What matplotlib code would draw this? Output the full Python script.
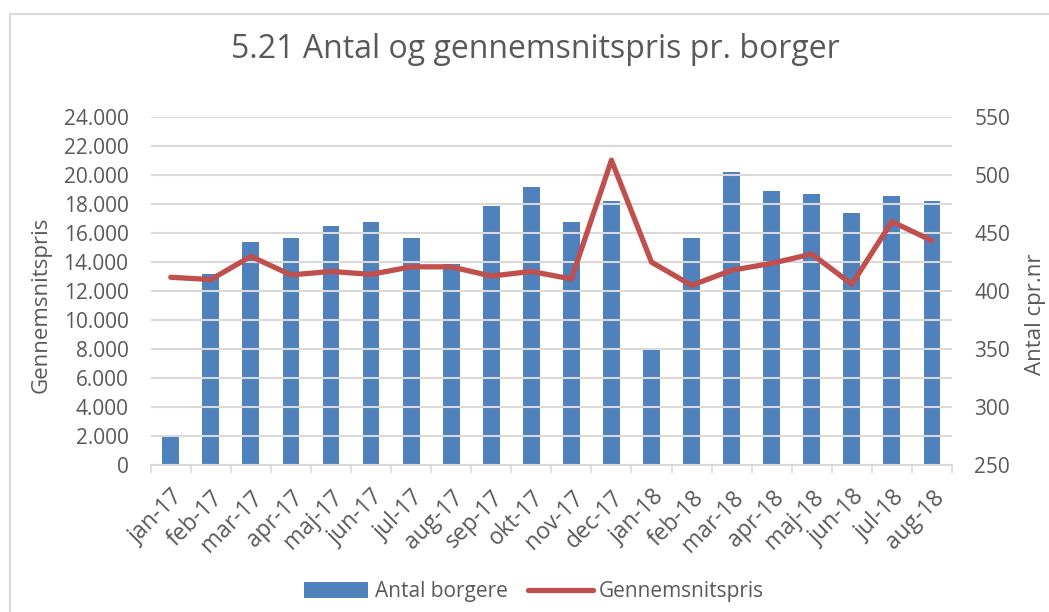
import matplotlib.pyplot as plt
from matplotlib.patches import Rectangle
import numpy as np

plt.rcParams['font.family'] = ['Open Sans', 'DejaVu Sans']

# Data
months = ['jan-17', 'feb-17', 'mar-17', 'apr-17', 'maj-17', 'jun-17', 'jul-17',
          'aug-17', 'sep-17', 'okt-17', 'nov-17', 'dec-17', 'jan-18', 'feb-18',
          'mar-18', 'apr-18', 'maj-18', 'jun-18', 'jul-18', 'aug-18']
antal_borgere = [1900, 13200, 15400, 15700, 16500, 16800, 15700, 13900, 17900, 19200,
                 16800, 18200, 8100, 15700, 20200, 18900, 18700, 17400, 18600, 18200]
gennemsnitspris = [412, 410, 430, 414, 417, 414.5, 421, 421, 413, 417,
                   410.5, 513, 425, 405, 418, 424, 432, 406, 460, 443.5]

bar_color = '#4F81BD'
line_color = '#C0504D'
text_color = '#595959'
grid_color = '#D9D9D9'

fig = plt.figure(figsize=(10.49, 6.12), dpi=100)
fig.patches.append(Rectangle((10 / 1049, -0.1), 1.2, 1 - 14 / 612 + 0.1,
                             transform=fig.transFigure, fill=False,
                             edgecolor=grid_color, linewidth=1.5))

ax = fig.add_axes([150.7 / 1049, 147 / 612, (952 - 150.7) / 1049, (465 - 117.3) / 612])
x = np.arange(len(months))
ax.bar(x, antal_borgere, width=0.42, color=bar_color, label='Antal borgere', zorder=1)

ax.set_xlim(-0.5, len(months) - 0.5)
ax.set_ylim(0, 24000)
ax.set_yticks(range(0, 24001, 2000))
ax.set_yticklabels([f'{v:,}'.replace(',', '.') for v in range(0, 24001, 2000)])
ax.set_axisbelow(False)
ax.yaxis.grid(True, color=grid_color, linewidth=1.5, zorder=2)
ax.set_xticks(x)
ax.set_xticklabels(months, rotation=45, ha='right', rotation_mode='anchor')
ax.set_xticks(np.arange(-0.5, len(months)), minor=True)
ax.tick_params(axis='x', which='major', length=0, pad=15, labelsize=16.5, labelcolor=text_color)
ax.tick_params(axis='x', which='minor', length=6, width=1.2, color=grid_color)
ax.tick_params(axis='y', length=0, pad=16, labelsize=15, labelcolor=text_color)
for s in ['top', 'left', 'right']:
    ax.spines[s].set_visible(False)
ax.spines['bottom'].set_color(grid_color)
ax.spines['bottom'].set_linewidth(1.5)

ax2 = ax.twinx()
ax2.plot(x, gennemsnitspris, color=line_color, linewidth=3.8, label='Gennemsnitspris',
         solid_capstyle='round')
ax2.set_ylim(250, 550)
ax2.set_yticks(range(250, 551, 50))
ax2.tick_params(axis='y', length=0, pad=16, labelsize=15, labelcolor=text_color)
for s in ['top', 'left', 'right', 'bottom']:
    ax2.spines[s].set_visible(False)

fig.text(535 / 1049, 1 - 50 / 612, '5.21 Antal og gennemsnitspris pr. borger', ha='center',
         va='center', fontsize=23, color=text_color)
fig.text(41 / 1049, 1 - 305 / 612, 'Gennemsnitspris', rotation=90, ha='center', va='center',
         fontsize=16, color=text_color)
fig.text(1036 / 1049, 1 - 314 / 612, 'Antal cpr.nr', rotation=90, ha='center', va='center',
         fontsize=16, color=text_color)

h1, l1 = ax.get_legend_handles_labels()
h2, l2 = ax2.get_legend_handles_labels()
fig.legend(h1 + h2, l1 + l2, loc='center', bbox_to_anchor=(534 / 1049, 1 - 592 / 612), ncol=2,
           frameon=False, fontsize=15, labelcolor=text_color, handlelength=3.1,
           handleheight=0.8, handletextpad=0.3, columnspacing=1.0)

fig.savefig('out.png', dpi=100)
